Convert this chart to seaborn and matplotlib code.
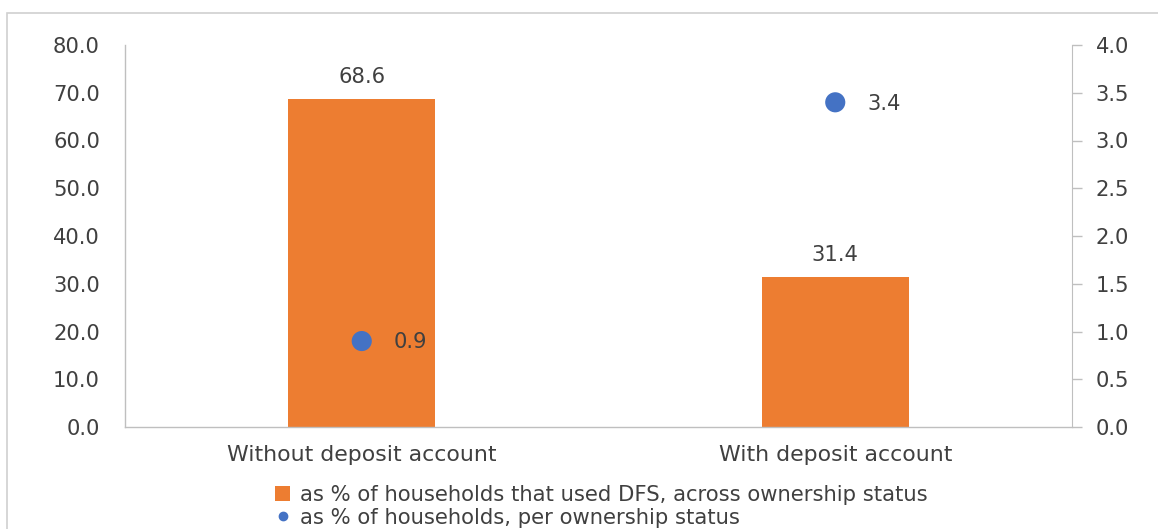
import matplotlib
matplotlib.use("Agg")
import matplotlib.pyplot as plt
import seaborn as sns
import pandas as pd
from matplotlib.patches import Patch, Rectangle
from matplotlib.lines import Line2D

categories = ["Without deposit account", "With deposit account"]
bar_values = [68.6, 31.4]
dot_values = [0.9, 3.4]
bar_label = "as % of households that used DFS, across ownership status"
dot_label = "as % of households, per ownership status"
left_ticks = [0, 10, 20, 30, 40, 50, 60, 70, 80]
right_ticks = [0, 0.5, 1.0, 1.5, 2.0, 2.5, 3.0, 3.5, 4.0]

ORANGE = "#ED7D31"
BLUE = "#4472C4"
TXT = "#404040"
GRID = "#BFBFBF"
FS = 15.2

sns.set_style("white")
plt.rcParams["font.family"] = ["DejaVu Sans"]

df = pd.DataFrame({"cat": categories, "bar": bar_values, "dot": dot_values})

fig = plt.figure(figsize=(11.58, 5.29), dpi=100)
ax = fig.add_axes([125/1158, 1-427/529, (1072-125)/1158, (427-45)/529])

sns.barplot(data=df, x="cat", y="bar", color=ORANGE, width=0.31, ax=ax,
            saturation=1, edgecolor="none")
ax.set_xlim(-0.5, 1.5)
ax.set_ylim(0, 80)
ax.set_yticks(left_ticks)
ax.set_yticklabels([f"{v:.1f}" for v in left_ticks])
ax.set_xlabel("")
ax.set_ylabel("")
ax.tick_params(axis="y", length=0, pad=18, labelsize=FS, labelcolor=TXT)
ax.tick_params(axis="x", length=0, pad=13, labelsize=FS + 0.6, labelcolor=TXT)
for s in ["top", "right"]:
    ax.spines[s].set_visible(False)
for s in ["left", "bottom"]:
    ax.spines[s].set_color(GRID)
    ax.spines[s].set_linewidth(1)

for i, v in enumerate(bar_values):
    ax.annotate(f"{v:.1f}", (i, v), xytext=(0, 9), textcoords="offset points",
                ha="center", va="bottom", fontsize=FS, color=TXT)

ax2 = ax.twinx()
sns.scatterplot(data=df, x="cat", y="dot", ax=ax2, color=BLUE, s=210,
                marker="o", edgecolor="none", legend=False)
ax2.set_ylim(0, 4)
ax2.set_yticks(right_ticks)
ax2.set_yticklabels([f"{v:.1f}" for v in right_ticks])
ax2.set_ylabel("")
ax2.tick_params(axis="y", length=7, width=1, color=GRID, pad=10, labelsize=FS,
                labelcolor=TXT)
for s in ["top", "left", "bottom"]:
    ax2.spines[s].set_visible(False)
ax2.spines["right"].set_color(GRID)
for i, v in enumerate(dot_values):
    ax2.annotate(f"{v:.1f}", (i, v), xytext=(23, -1), textcoords="offset points",
                 ha="left", va="center", fontsize=FS, color=TXT)

handles = [Patch(facecolor=ORANGE, edgecolor="none"),
           Line2D([], [], marker="o", linestyle="none", color=BLUE, markersize=6)]
fig.legend(handles, [bar_label, dot_label], loc="upper left",
           bbox_to_anchor=(275/1158, 1-485/529), frameon=False, fontsize=FS,
           labelcolor=TXT, handlelength=0.72, handleheight=0.72, handletextpad=0.45,
           labelspacing=0.12, borderpad=0, borderaxespad=0)

fig.patches.append(Rectangle((7/1158, -0.1), 1.2, 1-13/529+0.1,
                             transform=fig.transFigure, fill=False,
                             edgecolor="#D0D0D0", linewidth=1.2))

fig.savefig("out.png", dpi=100)
